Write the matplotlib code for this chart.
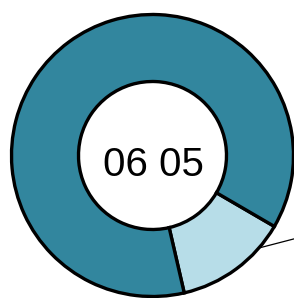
import numpy as np
import matplotlib
matplotlib.use('Agg')
import matplotlib.pyplot as plt

# 数据
categories = ['A', 'B']
values = [13, 87]
colors = ['#b7dde8', '#32869e']
center_label = '06 05'

W, H = 294, 298
fig = plt.figure(figsize=(W / 100, H / 100), dpi=100)
ax = fig.add_axes([0, 0, 1, 1])

cx, cy = 152.5, H - 155.5
radius = 141
start = -77

ax.pie(values, colors=colors, startangle=start, radius=radius,
       center=(cx, cy), frame=True,
       wedgeprops=dict(width=67, edgecolor='black', linewidth=2.4))
ax.set_xlim(0, W)
ax.set_ylim(0, H)
ax.set_aspect('auto')
ax.axis('off')

# 引导线
ang = np.deg2rad(-41)
x0, y0 = cx + radius * np.cos(ang), cy + radius * np.sin(ang)
ax.plot([x0, x0 + 50], [y0, y0 + 13], color='black', lw=0.9, clip_on=False)

ax.text(cx + 1, cy - 10, center_label, ha='center', va='center',
        fontsize=29, family='Liberation Sans')

fig.savefig('out.png', dpi=100)
